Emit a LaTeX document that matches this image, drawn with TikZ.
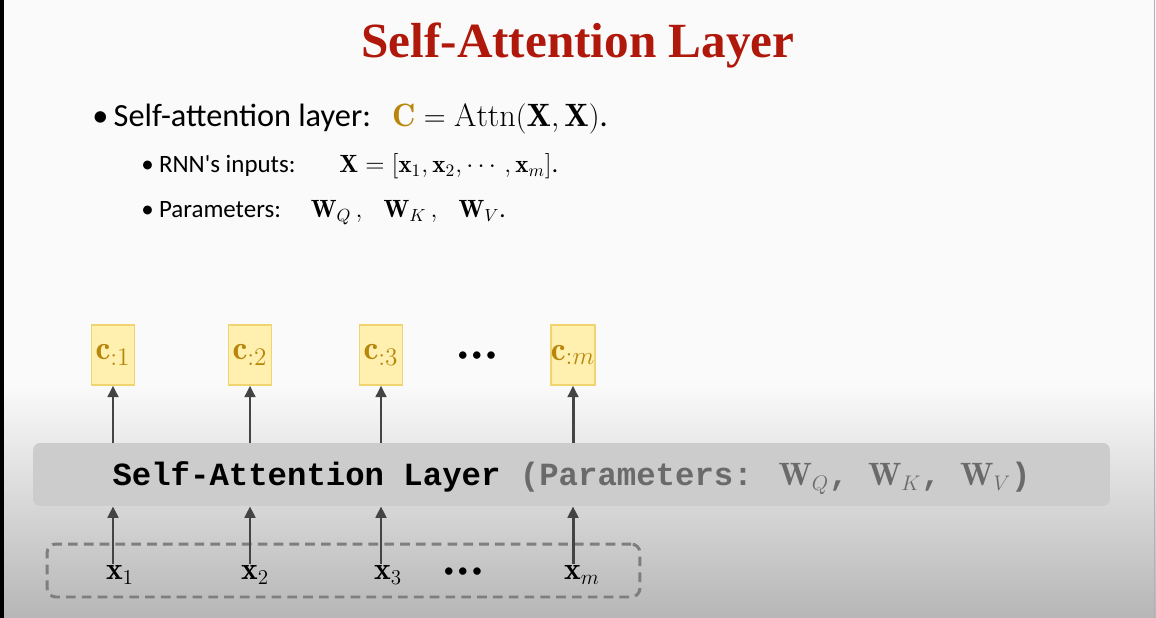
\documentclass[tikz,border=0pt]{standalone}
\usepackage{amsmath}
\usepackage{amssymb}
\usepackage{fontspec}
\usepackage{xcolor}
\usetikzlibrary{arrows.meta}
\newfontfamily\bodyfont{Carlito}
\newfontfamily\titlefont{Liberation Serif}
\newfontfamily\codefont{Liberation Mono}
\definecolor{titlered}{HTML}{B0180C}
\definecolor{cgold}{HTML}{B8860B}
\definecolor{cfill}{HTML}{FFF0B0}
\definecolor{cedge}{HTML}{F0D470}
\definecolor{arrgray}{HTML}{444444}
\definecolor{paramgray}{HTML}{6A6A6A}
\definecolor{layergray}{HTML}{CCCCCC}
\definecolor{dashgray}{HTML}{7E7E7E}
\definecolor{bgwhite}{HTML}{FAFAFA}
\definecolor{bgbottom}{HTML}{B6B6B6}

\begin{document}
\begin{tikzpicture}[
            x=0.02cm, y=-0.02cm,
            cbox/.style={rectangle, draw=cedge, fill=cfill, line width=0.8pt, minimum width=0.86cm, minimum height=1.2cm, inner sep=0pt, text=cgold, font=\fontsize{19}{19}\selectfont},
            xlab/.style={inner sep=1pt, font=\fontsize{18}{18}\selectfont},
            dots/.style={inner sep=0pt, font=\bodyfont\fontsize{12}{12}\selectfont},
            arr/.style={-{Triangle[length=6.5pt,width=6pt]}, line width=1.7pt, draw=arrgray}
        ]
            \useasboundingbox (0,0) rectangle (1156,618);
            \fill[bgwhite] (0,0) rectangle (1156,618);
            \shade[top color=bgwhite, bottom color=bgbottom] (0,385) rectangle (1156,618);
            \fill[black] (0,0) rectangle (4,618);
            \draw[gray!60, line width=0.6pt] (1154.5,0) -- (1154.5,618);

            \node[anchor=base, inner sep=0pt, text=titlered, font=\titlefont\bfseries\fontsize{28}{28}\selectfont] (title) at (578,58) {Self-Attention Layer};

            \node[anchor=base west, inner sep=0pt, font=\bodyfont\fontsize{18.4}{22}\selectfont] (line1) at (92,127)
                {•\hspace{3pt}Self-attention layer:\hspace{12pt}$\textcolor{cgold}{\mathbf{C}} = \mathrm{Attn}(\mathbf{X},\mathbf{X})$.};
            \node[anchor=base west, inner sep=0pt, font=\bodyfont\fontsize{14.2}{17}\selectfont] (line2) at (141,173)
                {•\hspace{3pt}RNN's inputs:\hspace{25pt}$\mathbf{X} = [\mathbf{x}_1, \mathbf{x}_2, \cdots, \mathbf{x}_m]$.};
            \node[anchor=base west, inner sep=0pt, font=\bodyfont\fontsize{14.2}{17}\selectfont] (line3) at (141,218)
                {•\hspace{3pt}Parameters:\hspace{17pt}$\mathbf{W}_Q\,,\ \ \ \mathbf{W}_K\,,\ \ \ \mathbf{W}_V$.};

            \node[cbox] (c1) at (113,355) {$\mathbf{c}_{:1}$};
            \node[cbox] (c2) at (250,355) {$\mathbf{c}_{:2}$};
            \node[cbox] (c3) at (381,355) {$\mathbf{c}_{:3}$};
            \node[dots] (cdots) at (477,357) {•\kern2pt•\kern2pt•};
            \node[cbox] (cm) at (573,355) {$\mathbf{c}_{:m}$};

            \node[fill=layergray, rounded corners=4pt, minimum width=21.54cm, minimum height=1.26cm, inner sep=0pt,
                  text height=16pt, text depth=3.5pt,
                  font=\codefont\bfseries\fontsize{18.4}{19}\selectfont] (layer) at (571.5,474.5)
                {Self-Attention Layer \textcolor{paramgray}{(Parameters: $\mathbf{W}_Q$, $\mathbf{W}_K$, $\mathbf{W}_V$)}};

            \node[draw=dashgray, dash pattern=on 5.5pt off 3.5pt, line width=1.7pt, rounded corners=5pt,
                  minimum width=11.86cm, minimum height=1.06cm] (inbox) at (343.5,570.5) {};
            \node[xlab] (x1) at (120,575) {$\mathbf{x}_1$};
            \node[xlab] (x2) at (255,575) {$\mathbf{x}_2$};
            \node[xlab] (x3) at (388,575) {$\mathbf{x}_3$};
            \node[dots] (xdots) at (463,573) {•\kern2pt•\kern2pt•};
            \node[xlab] (xm) at (582,575) {$\mathbf{x}_m$};

            \draw[arr] (layer.north -| c1) -- (c1.south);
            \draw[arr] (layer.north -| c2) -- (c2.south);
            \draw[arr] (layer.north -| c3) -- (c3.south);
            \draw[arr] (layer.north -| cm) -- (cm.south);

            \draw[arr] (x1.north -| c1) -- (layer.south -| c1);
            \draw[arr] (x2.north -| c2) -- (layer.south -| c2);
            \draw[arr] (x3.north -| c3) -- (layer.south -| c3);
            \draw[arr] (xm.north -| cm) -- (layer.south -| cm);
        \end{tikzpicture}
\end{document}
